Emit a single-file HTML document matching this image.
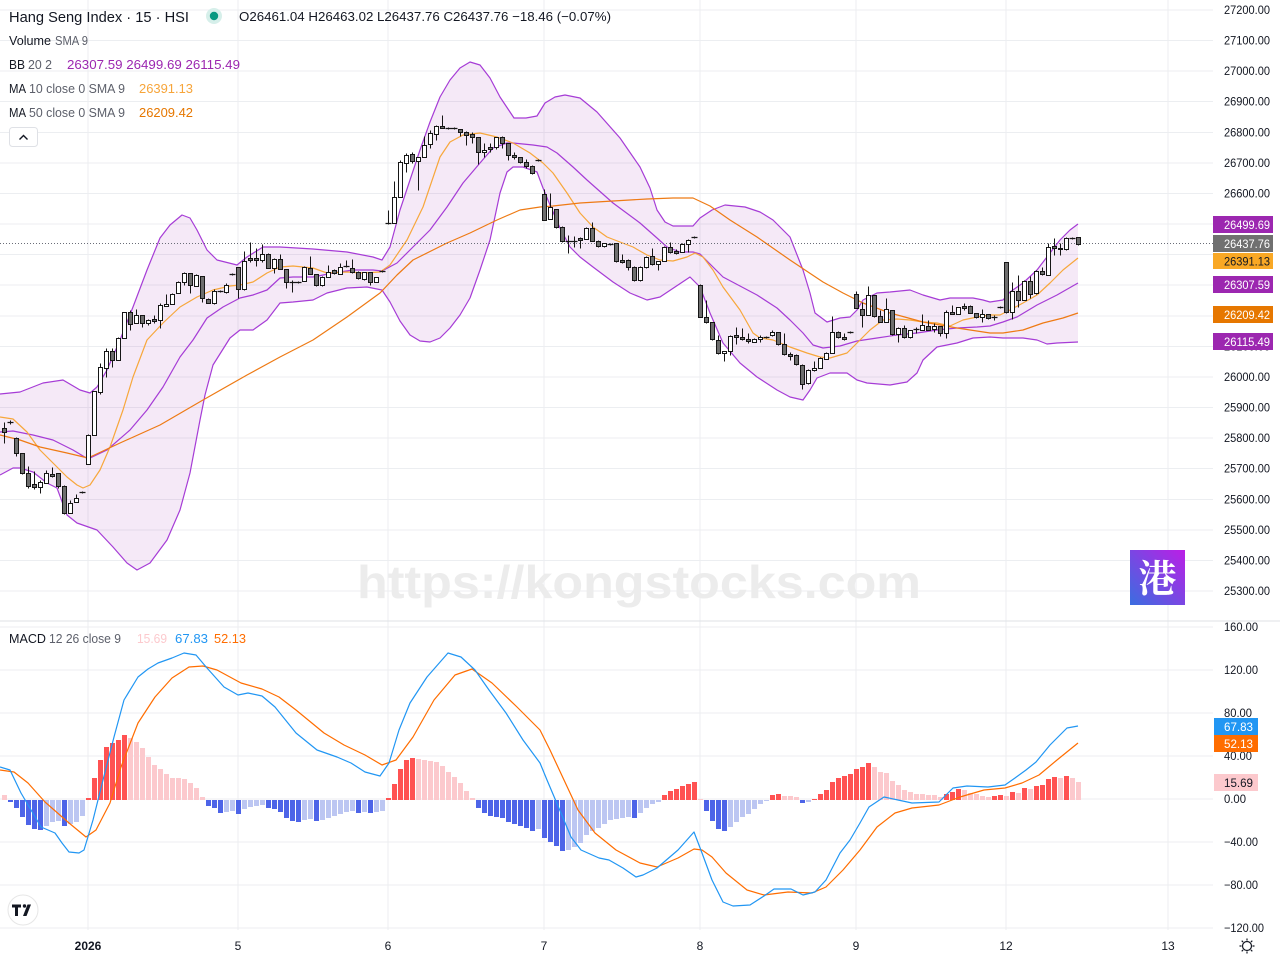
<!DOCTYPE html>
<html><head><meta charset="utf-8"><style>
html,body{margin:0;padding:0;background:#fff;}
svg{display:block;font-family:"Liberation Sans","Noto Sans CJK SC",sans-serif;}
</style></head><body>
<svg width="1280" height="960" viewBox="0 0 1280 960" xmlns="http://www.w3.org/2000/svg">
<defs>
<linearGradient id="lg" x1="0" y1="1" x2="1" y2="0">
<stop offset="0" stop-color="#3a6ee0"/><stop offset="1" stop-color="#bc1ee6"/>
</linearGradient>
</defs>
<rect width="1280" height="960" fill="#fff"/>
<!-- grid -->
<g stroke="#eceef1" stroke-width="1" shape-rendering="crispEdges">
<path d="M0 10H1213M0 40.6H1213M0 71.2H1213M0 101.7H1213M0 132.3H1213M0 162.9H1213M0 193.5H1213M0 224.1H1213M0 254.6H1213M0 285.2H1213M0 315.8H1213M0 346.4H1213M0 376.9H1213M0 407.5H1213M0 438.1H1213M0 468.7H1213M0 499.3H1213M0 529.8H1213M0 560.4H1213M0 591H1213"/>
<path d="M0 627H1213M0 670H1213M0 713H1213M0 756H1213M0 799H1213M0 842H1213M0 885H1213M0 928H1213"/>
<path d="M88 0V930M238 0V930M388 0V930M544 0V930M700 0V930M856 0V930M1006 0V930M1168 0V930"/>
</g>
<line x1="0" y1="621" x2="1280" y2="621" stroke="#dfe1e6" stroke-width="1" shape-rendering="crispEdges"/>
<!-- watermark -->
<text x="639" y="598" text-anchor="middle" font-size="46" font-weight="bold" fill="#ececec" textLength="564" lengthAdjust="spacingAndGlyphs">https://kongstocks.com</text>
<!-- BB fill -->
<polygon fill="rgba(156,39,176,0.10)" points="0,394 20,392 43,383 63,380 80,390 90,393 97,387 107,370 120,340 133,307 147,270 160,238 170,225 182,215 190,218 197,230 207,250 217,260 237,265 247,257 263,247 280,247 313,249 347,252 373,257 382,260 390,247 400,210 410,180 420,150 430,122 440,97 450,80 460,68 470,62 480,65 490,78 500,97 514,118 526,118 537,116 545,103 555,97 565,95 580,98 597,112 620,138 640,167 650,188 657,210 665,222 673,226 693,226 700,218 712,210 725,205 745,207 760,212 773,220 790,237 803,270 810,293 815,313 827,322 840,318 850,317 857,310 863,300 877,293 890,292 910,290 923,295 940,300 950,298 973,298 983,300 990,302 1003,300 1010,292 1023,283 1037,270 1050,253 1060,240 1070,230 1078,224 1078,342 1057,343 1047,344 1037,340 1023,338 1003,338 990,337 973,338 957,343 937,347 923,360 917,373 907,382 890,385 867,383 857,380 847,373 830,373 817,378 810,390 803,400 790,397 777,390 757,377 740,363 723,343 710,313 700,287 690,277 675,287 660,297 647,300 630,293 613,282 593,267 580,257 570,247 560,228 550,205 543,188 537,172 523,167 513,167 507,172 500,193 490,240 480,270 470,298 460,315 450,328 440,338 430,342 420,341 410,335 400,321 390,302 382,290 367,287 347,288 327,293 313,300 293,302 280,303 267,320 253,330 240,330 230,338 213,365 205,395 200,420 190,473 180,510 167,540 150,563 137,570 127,563 113,547 97,530 77,523 67,515 57,488 47,483 33,472 20,468 13,468 0,475"/>
<g fill="none" stroke-width="1.2" stroke-linejoin="round">
<polyline stroke="#a63cd6" points="0,394 20,392 43,383 63,380 80,390 90,393 97,387 107,370 120,340 133,307 147,270 160,238 170,225 182,215 190,218 197,230 207,250 217,260 237,265 247,257 263,247 280,247 313,249 347,252 373,257 382,260 390,247 400,210 410,180 420,150 430,122 440,97 450,80 460,68 470,62 480,65 490,78 500,97 514,118 526,118 537,116 545,103 555,97 565,95 580,98 597,112 620,138 640,167 650,188 657,210 665,222 673,226 693,226 700,218 712,210 725,205 745,207 760,212 773,220 790,237 803,270 810,293 815,313 827,322 840,318 850,317 857,310 863,300 877,293 890,292 910,290 923,295 940,300 950,298 973,298 983,300 990,302 1003,300 1010,292 1023,283 1037,270 1050,253 1060,240 1070,230 1078,224"/>
<polyline stroke="#a63cd6" points="0,475 13,468 20,468 33,472 47,483 57,488 67,515 77,523 97,530 113,547 127,563 137,570 150,563 167,540 180,510 190,473 200,420 205,395 213,365 230,338 240,330 253,330 267,320 280,303 293,302 313,300 327,293 347,288 367,287 382,290 390,302 400,321 410,335 420,341 430,342 440,338 450,328 460,315 470,298 480,270 490,240 500,193 507,172 513,167 523,167 537,172 543,188 550,205 560,228 570,247 580,257 593,267 613,282 630,293 647,300 660,297 675,287 690,277 700,287 710,313 723,343 740,363 757,377 777,390 790,397 803,400 810,390 817,378 830,373 847,373 857,380 867,383 890,385 907,382 917,373 923,360 937,347 957,343 973,338 990,337 1003,338 1023,338 1037,340 1047,344 1057,343 1078,342"/>
<polyline stroke="#a63cd6" points="0,432 13,431 33,435 53,440 73,450 88,459 107,450 130,430 147,410 163,387 180,357 193,340 207,318 223,307 240,298 253,295 267,290 280,278 293,277 313,277 333,273 353,270 373,270 382,271 397,263 413,247 430,230 447,207 463,183 480,163 493,148 507,143 513,143 533,145 547,147 557,153 573,167 587,180 613,203 640,223 657,238 667,247 680,252 693,252 700,254 723,277 757,295 777,308 790,320 803,333 813,345 823,348 840,346 857,341 877,338 897,335 917,333 937,330 957,328 977,327 990,326 1003,322 1017,317 1037,305 1057,295 1078,283"/>
<polyline stroke="#f7a73b" points="0,417 13,419 27,432 40,450 53,463 67,477 77,485 83,488 90,485 100,470 110,447 123,410 133,377 147,340 163,323 180,307 197,297 213,290 230,286 240,285 253,282 267,273 280,267 293,266 313,268 327,273 347,272 363,273 380,272 390,265 407,240 423,207 440,157 450,142 463,135 480,133 497,137 513,143 530,153 543,163 553,173 567,193 580,213 593,227 607,237 620,242 633,247 647,255 660,260 673,261 687,257 695,253 703,257 713,270 723,287 740,310 753,333 760,338 773,340 790,347 807,353 820,357 830,358 847,353 857,343 870,330 883,320 897,319 910,320 923,322 937,323 950,326 963,320 977,317 990,315 1000,315 1010,310 1023,303 1037,295 1050,283 1063,270 1078,258"/>
<polyline stroke="#ee7a14" points="0,435 20,440 40,447 67,453 88,458 120,443 160,425 203,400 247,375 280,357 313,340 347,317 380,293 397,275 413,260 447,243 470,233 497,220 520,210 540,207 553,206 580,203 613,201 647,199 673,198 693,198 710,206 730,220 757,237 790,260 823,282 843,293 863,303 890,313 923,322 957,328 990,333 1003,333 1023,330 1043,323 1063,318 1078,313"/>
</g>
<!-- last price dotted line -->
<line x1="0" y1="243.5" x2="1213" y2="243.5" stroke="#6a6d78" stroke-width="1" stroke-dasharray="1,2"/>
<!-- candles -->
<g transform="translate(0.5,0.5)" stroke="#161616" stroke-width="1">
<path fill="none" d="M4 422V443M10 420V424M16 437V456M22 453V474M28 466V488M34 471V489M40 480V493M46 470V483M52 467V477M58 473V488M64 485V514M70 500V513M76 494V502M82 491V493M88 434V464M94 391V435M100 363V394M106 348V377M112 348V367M118 337V360M124 312V338M130 310V330M136 309V323M142 315V327M148 319V325M154 315V323M160 303V328M166 294V306M172 293V304M178 281V293M184 272V285M190 273V293M196 274V286M202 276V302M208 298V303M214 289V304M220 290V292M226 283V293M232 273V275M238 267V298M244 251V290M250 242V262M256 248V266M262 244V262M268 253V268M274 258V273M280 254V269M286 269V288M292 280V292M298 281V283M304 266V281M310 256V274M316 274V286M322 276V286M328 265V277M334 269V274M340 263V274M346 260V267M352 259V273M358 271V279M364 272V280M370 272V285M376 277V282M382 270V272M388 210V224M394 181V223M400 160V197M406 153V172M412 152V163M418 157V190M424 136V157M430 130V148M436 125V140M442 115V127M448 127V129M454 127V129M460 129V136M466 131V145M472 132V143M478 137V164M484 143V157M490 143V152M496 137V149M502 136V148M508 143V160M514 152V159M520 157V163M526 159V168M532 165V174M538 159V161M544 189V220M550 193V219M556 209V228M562 226V242M568 235V253M574 236V247M580 237V248M586 227V239M592 222V241M598 240V247M604 243V247M610 243V245M616 243V262M622 254V263M628 259V270M634 266V281M640 266V281M646 256V268M652 248V265M658 261V270M664 246V261M670 242V253M676 249V254M682 243V252M688 239V252M694 236V238M700 284V317M706 300V323M712 322V340M718 335V354M724 351V361M730 335V355M736 327V344M742 328V340M748 333V343M754 338V342M760 335V342M766 336V338M772 330V336M778 332V345M784 333V355M790 352V360M796 354V365M802 364V389M808 369V384M814 361V371M820 357V368M826 352V359M832 316V353M838 331V338M844 333V340M850 331V333M856 291V308M862 302V327M868 286V315M874 295V317M880 310V322M886 298V322M892 310V335M898 327V342M904 325V338M910 330V338M916 327V333M922 314V330M928 320V330M934 323V332M940 326V336M946 310V338M952 305V314M958 307V314M964 303V310M970 305V313M976 313V318M982 309V322M988 314V319M994 315V320M1000 306V308M1006 262V313M1012 282V319M1018 275V307M1024 280V300M1030 276V298M1036 270V294M1042 267V275M1048 243V275M1054 238V255M1060 243V255M1066 237V250M1072 237V239M1078 237V245"/>
<path fill="none" stroke-width="1.2" d="M7 422h6M79 492h6M217 291h6M229 274h6M289 282h6M295 282h6M343 266h6M379 271h6M385 223h6M445 128h6M451 128h6M535 160h6M565 241h6M571 241h6M607 244h6M691 237h6M763 337h6M847 332h6M913 329h6M991 317h6M997 307h6M1069 238h6"/>
<path fill="#ffffff" d="M38 482h4v5h-4zM44 473h4v10h-4zM68 503h4v10h-4zM74 498h4v4h-4zM86 435h4v29h-4zM92 391h4v44h-4zM98 367h4v25h-4zM104 351h4v17h-4zM116 338h4v22h-4zM122 312h4v26h-4zM134 315h4v8h-4zM146 320h4v3h-4zM158 305h4v15h-4zM164 304h4v2h-4zM170 294h4v10h-4zM176 282h4v11h-4zM182 273h4v9h-4zM194 275h4v11h-4zM212 291h4v12h-4zM224 285h4v7h-4zM242 261h4v28h-4zM260 254h4v6h-4zM272 259h4v9h-4zM302 267h4v14h-4zM320 277h4v8h-4zM326 272h4v5h-4zM338 267h4v7h-4zM362 272h4v7h-4zM374 277h4v5h-4zM392 197h4v26h-4zM398 162h4v35h-4zM404 155h4v8h-4zM416 157h4v4h-4zM422 145h4v12h-4zM428 133h4v11h-4zM434 126h4v8h-4zM482 150h4v2h-4zM494 137h4v10h-4zM548 207h4v12h-4zM584 228h4v11h-4zM602 243h4v3h-4zM638 267h4v13h-4zM644 257h4v10h-4zM656 261h4v3h-4zM662 247h4v14h-4zM680 244h4v8h-4zM686 240h4v4h-4zM722 351h4v2h-4zM728 336h4v15h-4zM752 339h4v3h-4zM758 337h4v2h-4zM770 332h4v3h-4zM806 370h4v13h-4zM812 368h4v2h-4zM818 358h4v10h-4zM824 353h4v6h-4zM830 332h4v21h-4zM866 295h4v20h-4zM884 309h4v13h-4zM896 328h4v6h-4zM908 330h4v7h-4zM920 325h4v5h-4zM932 326h4v3h-4zM944 312h4v21h-4zM956 307h4v7h-4zM980 314h4v3h-4zM1010 291h4v21h-4zM1022 281h4v19h-4zM1034 271h4v22h-4zM1046 247h4v28h-4zM1064 238h4v11h-4z"/>
<path fill="#6e6e6e" d="M2 428h4v4h-4zM14 438h4v15h-4zM20 453h4v20h-4zM26 473h4v13h-4zM32 484h4v3h-4zM50 474h4v2h-4zM56 473h4v13h-4zM62 486h4v27h-4zM110 351h4v9h-4zM128 312h4v12h-4zM140 315h4v8h-4zM152 319h4v2h-4zM188 273h4v12h-4zM200 276h4v22h-4zM206 299h4v4h-4zM236 267h4v22h-4zM248 258h4v2h-4zM254 258h4v2h-4zM266 254h4v14h-4zM278 259h4v10h-4zM284 269h4v13h-4zM308 268h4v6h-4zM314 274h4v11h-4zM332 270h4v3h-4zM350 268h4v4h-4zM356 272h4v6h-4zM368 272h4v10h-4zM410 154h4v7h-4zM440 126h4v2h-4zM458 129h4v3h-4zM464 132h4v3h-4zM470 134h4v3h-4zM476 137h4v15h-4zM488 147h4v2h-4zM500 137h4v6h-4zM506 143h4v12h-4zM512 155h4v2h-4zM518 157h4v5h-4zM524 162h4v4h-4zM530 166h4v7h-4zM542 194h4v26h-4zM554 209h4v18h-4zM560 227h4v14h-4zM578 238h4v2h-4zM590 228h4v13h-4zM596 241h4v5h-4zM614 243h4v18h-4zM620 260h4v2h-4zM626 260h4v7h-4zM632 267h4v13h-4zM650 256h4v8h-4zM668 247h4v5h-4zM674 251h4v2h-4zM698 285h4v32h-4zM704 317h4v5h-4zM710 322h4v17h-4zM716 340h4v13h-4zM734 335h4v2h-4zM740 337h4v2h-4zM746 339h4v2h-4zM776 332h4v12h-4zM782 344h4v10h-4zM788 354h4v2h-4zM794 355h4v9h-4zM800 365h4v19h-4zM836 332h4v5h-4zM842 337h4v2h-4zM854 294h4v14h-4zM860 309h4v6h-4zM872 295h4v21h-4zM878 316h4v6h-4zM890 310h4v24h-4zM902 328h4v9h-4zM926 326h4v4h-4zM938 326h4v7h-4zM950 312h4v2h-4zM962 306h4v2h-4zM968 306h4v7h-4zM974 313h4v4h-4zM986 314h4v4h-4zM1004 262h4v50h-4zM1016 291h4v9h-4zM1028 281h4v13h-4zM1040 271h4v3h-4zM1052 246h4v2h-4zM1058 248h4v1h-4zM1076 237h4v7h-4z"/>
</g>
<!-- MACD histogram -->
<g shape-rendering="crispEdges">
<path fill="#ff5252" d="M86 798h5V800h-5zM92 778h5V800h-5zM98 760h5V800h-5zM104 747h5V800h-5zM110 743h5V800h-5zM116 740h5V800h-5zM122 735h5V800h-5zM386 798h5V800h-5zM392 784h5V800h-5zM398 769h5V800h-5zM404 760h5V800h-5zM410 758h5V800h-5zM662 795h5V800h-5zM668 791h5V800h-5zM674 789h5V800h-5zM680 786h5V800h-5zM686 784h5V800h-5zM692 782h5V800h-5zM770 795h5V800h-5zM776 794h5V800h-5zM812 799h5V800h-5zM818 794h5V800h-5zM824 790h5V800h-5zM830 782h5V800h-5zM836 778h5V800h-5zM842 776h5V800h-5zM848 774h5V800h-5zM854 769h5V800h-5zM860 767h5V800h-5zM866 763h5V800h-5zM944 794h5V800h-5zM950 792h5V800h-5zM956 789h5V800h-5zM992 796h5V800h-5zM998 795h5V800h-5zM1010 792h5V800h-5zM1022 788h5V800h-5zM1034 786h5V800h-5zM1040 785h5V800h-5zM1046 779h5V800h-5zM1052 777h5V800h-5zM1064 776h5V800h-5z"/>
<path fill="#fcc9cd" d="M2 795h5V800h-5zM128 738h5V800h-5zM134 742h5V800h-5zM140 748h5V800h-5zM146 757h5V800h-5zM152 765h5V800h-5zM158 769h5V800h-5zM164 774h5V800h-5zM170 778h5V800h-5zM176 778h5V800h-5zM182 779h5V800h-5zM188 783h5V800h-5zM194 788h5V800h-5zM200 797h5V800h-5zM416 759h5V800h-5zM422 760h5V800h-5zM428 761h5V800h-5zM434 762h5V800h-5zM440 766h5V800h-5zM446 772h5V800h-5zM452 777h5V800h-5zM458 783h5V800h-5zM464 791h5V800h-5zM470 798h5V800h-5zM698 799h5V800h-5zM782 796h5V800h-5zM788 796h5V800h-5zM794 797h5V800h-5zM872 767h5V800h-5zM878 772h5V800h-5zM884 773h5V800h-5zM890 781h5V800h-5zM896 785h5V800h-5zM902 790h5V800h-5zM908 792h5V800h-5zM914 794h5V800h-5zM920 794h5V800h-5zM926 795h5V800h-5zM932 795h5V800h-5zM938 797h5V800h-5zM962 790h5V800h-5zM968 793h5V800h-5zM974 794h5V800h-5zM980 796h5V800h-5zM986 797h5V800h-5zM1004 796h5V800h-5zM1016 793h5V800h-5zM1028 789h5V800h-5zM1058 778h5V800h-5zM1070 778h5V800h-5zM1076 782h5V800h-5z"/>
<path fill="#4d64e8" d="M8 800h5V802h-5zM14 800h5V808h-5zM20 800h5V817h-5zM26 800h5V825h-5zM32 800h5V829h-5zM38 800h5V830h-5zM62 800h5V826h-5zM206 800h5V806h-5zM212 800h5V808h-5zM218 800h5V813h-5zM236 800h5V814h-5zM266 800h5V808h-5zM272 800h5V809h-5zM278 800h5V812h-5zM284 800h5V818h-5zM290 800h5V821h-5zM296 800h5V822h-5zM314 800h5V821h-5zM356 800h5V813h-5zM368 800h5V813h-5zM476 800h5V808h-5zM482 800h5V813h-5zM488 800h5V816h-5zM494 800h5V817h-5zM500 800h5V818h-5zM506 800h5V822h-5zM512 800h5V824h-5zM518 800h5V826h-5zM524 800h5V828h-5zM530 800h5V831h-5zM542 800h5V838h-5zM548 800h5V842h-5zM554 800h5V846h-5zM560 800h5V851h-5zM632 800h5V818h-5zM704 800h5V811h-5zM710 800h5V821h-5zM716 800h5V829h-5zM722 800h5V831h-5zM800 800h5V803h-5z"/>
<path fill="#bcc6f2" d="M44 800h5V826h-5zM50 800h5V822h-5zM56 800h5V821h-5zM68 800h5V824h-5zM74 800h5V822h-5zM80 800h5V816h-5zM224 800h5V812h-5zM230 800h5V811h-5zM242 800h5V809h-5zM248 800h5V807h-5zM254 800h5V806h-5zM260 800h5V805h-5zM302 800h5V820h-5zM308 800h5V819h-5zM320 800h5V820h-5zM326 800h5V818h-5zM332 800h5V816h-5zM338 800h5V814h-5zM344 800h5V812h-5zM350 800h5V811h-5zM362 800h5V812h-5zM374 800h5V812h-5zM380 800h5V811h-5zM536 800h5V829h-5zM566 800h5V850h-5zM572 800h5V847h-5zM578 800h5V843h-5zM584 800h5V835h-5zM590 800h5V831h-5zM596 800h5V828h-5zM602 800h5V824h-5zM608 800h5V820h-5zM614 800h5V819h-5zM620 800h5V818h-5zM626 800h5V817h-5zM638 800h5V813h-5zM644 800h5V808h-5zM650 800h5V804h-5zM656 800h5V802h-5zM728 800h5V827h-5zM734 800h5V822h-5zM740 800h5V817h-5zM746 800h5V814h-5zM752 800h5V809h-5zM758 800h5V804h-5zM764 800h5V801h-5zM806 800h5V802h-5z"/>
</g>
<!-- MACD lines -->
<g fill="none" stroke-width="1.2" stroke-linejoin="round">
<polyline stroke="#ff6d00" points="0,770 14,772 28,783 45,802 69,823 86,837 96,830 110,803 121,767 138,723 155,697 172,678 189,667 203,666 217,670 241,683 262,689 279,697 296,710 324,733 344,745 365,755 382,765 396,760 413,737 434,700 455,675 472,669 492,683 517,707 540,730 550,750 564,780 578,810 595,833 616,850 640,863 657,867 678,858 694,849 702,850 712,857 726,873 747,890 764,895 788,892 812,893 826,887 843,870 860,850 877,827 895,813 912,808 939,805 960,797 984,790 1005,788 1022,783 1039,775 1057,760 1078,743"/>
<polyline stroke="#2196f3" points="0,767 10,770 21,793 31,810 41,827 55,833 62,843 69,852 79,853 84,850 93,820 103,780 114,737 124,700 138,677 148,669 158,663 172,658 184,653 196,655 207,668 224,687 238,695 248,693 262,696 275,707 296,733 317,750 337,757 351,763 365,772 380,776 389,763 399,730 410,703 427,677 448,653 461,657 475,670 489,690 506,713 523,740 540,763 547,780 561,813 571,837 581,850 599,858 609,860 623,868 636,877 643,875 657,868 678,850 694,832 702,853 712,880 723,902 733,906 750,905 764,896 774,889 791,889 803,895 815,892 826,880 840,853 850,840 860,823 869,807 884,797 898,800 912,803 939,802 953,788 967,786 988,787 1005,785 1015,778 1026,770 1036,762 1050,745 1067,728 1078,726"/>
</g>
<!-- logo square -->
<rect x="1130" y="550" width="55" height="55" fill="url(#lg)"/>
<text x="1157.5" y="592" text-anchor="middle" font-size="38" font-weight="bold" fill="#ffffff" font-family="'Noto Serif CJK SC','Noto Sans CJK SC',sans-serif">港</text>
<!-- legend -->
<g font-size="13" fill="#131722">
<text x="9" y="22" font-size="15" textLength="180" lengthAdjust="spacingAndGlyphs">Hang Seng Index · 15 · HSI</text>
<circle cx="214" cy="16" r="8" fill="#d6efea"/>
<circle cx="214" cy="16" r="4.2" fill="#089981"/>
<text x="239" y="21" textLength="372" lengthAdjust="spacingAndGlyphs">O26461.04 H26463.02 L26437.76 C26437.76 −18.46 (−0.07%)</text>
<text x="9" y="45" textLength="42" lengthAdjust="spacingAndGlyphs">Volume</text>
<text x="55" y="45" fill="#5d606b" textLength="33" lengthAdjust="spacingAndGlyphs">SMA 9</text>
<text x="9" y="69" textLength="16" lengthAdjust="spacingAndGlyphs">BB</text>
<text x="28" y="69" fill="#5d606b" textLength="24" lengthAdjust="spacingAndGlyphs">20 2</text>
<text x="67" y="69" fill="#9c27b0" textLength="173" lengthAdjust="spacingAndGlyphs">26307.59 26499.69 26115.49</text>
<text x="9" y="93" textLength="17" lengthAdjust="spacingAndGlyphs">MA</text>
<text x="29" y="93" fill="#5d606b" textLength="96" lengthAdjust="spacingAndGlyphs">10 close 0 SMA 9</text>
<text x="139" y="93" fill="#f7a53a" textLength="54" lengthAdjust="spacingAndGlyphs">26391.13</text>
<text x="9" y="117" textLength="17" lengthAdjust="spacingAndGlyphs">MA</text>
<text x="29" y="117" fill="#5d606b" textLength="96" lengthAdjust="spacingAndGlyphs">50 close 0 SMA 9</text>
<text x="139" y="117" fill="#e67700" textLength="54" lengthAdjust="spacingAndGlyphs">26209.42</text>
<rect x="9.5" y="127.5" width="28" height="19" rx="3" fill="#fff" stroke="#dfe1e6"/>
<path d="M19.5 139.5l4-4 4 4" fill="none" stroke="#131722" stroke-width="1.4"/>
<text x="9" y="643" textLength="37" lengthAdjust="spacingAndGlyphs">MACD</text>
<text x="49" y="643" fill="#5d606b" textLength="72" lengthAdjust="spacingAndGlyphs">12 26 close 9</text>
<text x="137" y="643" fill="#fcc9cd" textLength="30" lengthAdjust="spacingAndGlyphs">15.69</text>
<text x="175" y="643" fill="#2196f3" textLength="33" lengthAdjust="spacingAndGlyphs">67.83</text>
<text x="214" y="643" fill="#ff6d00" textLength="32" lengthAdjust="spacingAndGlyphs">52.13</text>
</g>
<!-- right axis -->
<g font-size="12" fill="#131722" lengthAdjust="spacingAndGlyphs">
<text x="1224" y="14" textLength="46" lengthAdjust="spacingAndGlyphs">27200.00</text>
<text x="1224" y="44.6" textLength="46" lengthAdjust="spacingAndGlyphs">27100.00</text>
<text x="1224" y="75.2" textLength="46" lengthAdjust="spacingAndGlyphs">27000.00</text>
<text x="1224" y="105.7" textLength="46" lengthAdjust="spacingAndGlyphs">26900.00</text>
<text x="1224" y="136.3" textLength="46" lengthAdjust="spacingAndGlyphs">26800.00</text>
<text x="1224" y="166.9" textLength="46" lengthAdjust="spacingAndGlyphs">26700.00</text>
<text x="1224" y="197.5" textLength="46" lengthAdjust="spacingAndGlyphs">26600.00</text>
<text x="1224" y="350.4" textLength="46" lengthAdjust="spacingAndGlyphs">26100.00</text>
<text x="1224" y="380.9" textLength="46" lengthAdjust="spacingAndGlyphs">26000.00</text>
<text x="1224" y="411.5" textLength="46" lengthAdjust="spacingAndGlyphs">25900.00</text>
<text x="1224" y="442.1" textLength="46" lengthAdjust="spacingAndGlyphs">25800.00</text>
<text x="1224" y="472.7" textLength="46" lengthAdjust="spacingAndGlyphs">25700.00</text>
<text x="1224" y="503.3" textLength="46" lengthAdjust="spacingAndGlyphs">25600.00</text>
<text x="1224" y="533.8" textLength="46" lengthAdjust="spacingAndGlyphs">25500.00</text>
<text x="1224" y="564.4" textLength="46" lengthAdjust="spacingAndGlyphs">25400.00</text>
<text x="1224" y="595" textLength="46" lengthAdjust="spacingAndGlyphs">25300.00</text>
<text x="1224" y="631" textLength="34" lengthAdjust="spacingAndGlyphs">160.00</text>
<text x="1224" y="674" textLength="34" lengthAdjust="spacingAndGlyphs">120.00</text>
<text x="1224" y="717" textLength="28" lengthAdjust="spacingAndGlyphs">80.00</text>
<text x="1224" y="760" textLength="28" lengthAdjust="spacingAndGlyphs">40.00</text>
<text x="1224" y="803" textLength="22" lengthAdjust="spacingAndGlyphs">0.00</text>
<text x="1224" y="846" textLength="34" lengthAdjust="spacingAndGlyphs">−40.00</text>
<text x="1224" y="889" textLength="34" lengthAdjust="spacingAndGlyphs">−80.00</text>
<text x="1224" y="932" textLength="40" lengthAdjust="spacingAndGlyphs">−120.00</text>
</g>
<!-- price tags -->
<g font-size="12">
<rect x="1213" y="216" width="60" height="17" fill="#9c27b0"/>
<text x="1224" y="229" fill="#fff" textLength="46" lengthAdjust="spacingAndGlyphs">26499.69</text>
<rect x="1213" y="235" width="60" height="17" fill="#707070"/>
<text x="1224" y="248" fill="#fff" textLength="46" lengthAdjust="spacingAndGlyphs">26437.76</text>
<rect x="1213" y="253" width="60" height="16" fill="#f9a825"/>
<text x="1224" y="265.5" fill="#131722" textLength="46" lengthAdjust="spacingAndGlyphs">26391.13</text>
<rect x="1213" y="276" width="60" height="17" fill="#9c27b0"/>
<text x="1224" y="289" fill="#fff" textLength="46" lengthAdjust="spacingAndGlyphs">26307.59</text>
<rect x="1213" y="306" width="60" height="17" fill="#e67700"/>
<text x="1224" y="319" fill="#fff" textLength="46" lengthAdjust="spacingAndGlyphs">26209.42</text>
<rect x="1213" y="333" width="60" height="17" fill="#9c27b0"/>
<text x="1224" y="346" fill="#fff" textLength="46" lengthAdjust="spacingAndGlyphs">26115.49</text>
<rect x="1214" y="718" width="44" height="17" fill="#2196f3"/>
<text x="1224" y="731" fill="#fff" textLength="29" lengthAdjust="spacingAndGlyphs">67.83</text>
<rect x="1214" y="735" width="44" height="17" fill="#ff6d00"/>
<text x="1224" y="748" fill="#fff" textLength="29" lengthAdjust="spacingAndGlyphs">52.13</text>
<rect x="1214" y="774" width="44" height="17" fill="#fcc9cd"/>
<text x="1224" y="787" fill="#131722" textLength="29" lengthAdjust="spacingAndGlyphs">15.69</text>
</g>
<!-- time axis -->
<g font-size="12" fill="#131722" text-anchor="middle">
<text x="88" y="950" font-weight="bold">2026</text>
<text x="238" y="950">5</text>
<text x="388" y="950">6</text>
<text x="544" y="950">7</text>
<text x="700" y="950">8</text>
<text x="856" y="950">9</text>
<text x="1006" y="950">12</text>
<text x="1168" y="950">13</text>
</g>
<!-- settings icon -->
<g stroke="#131722" stroke-width="1.2" fill="none">
<circle cx="1247" cy="946" r="4.5"/>
<path d="M1247 938.5v2M1247 951.5v2M1239.5 946h2M1252.5 946h2M1241.7 940.7l1.4 1.4M1250.9 949.9l1.4 1.4M1241.7 951.3l1.4-1.4M1250.9 942.1l1.4-1.4"/>
</g>
<!-- TV logo -->
<circle cx="23" cy="910" r="15" fill="#fff" stroke="#e6e6e6"/>
<g fill="#131722">
<path d="M12 904.5h9v3h-3v8.5h-3v-8.5h-3z"/>
<circle cx="24.5" cy="906" r="1.7"/>
<path d="M27.5 904.5h3.5l-4.5 11.5h-3.5z"/>
</g>
</svg>
</body></html>
